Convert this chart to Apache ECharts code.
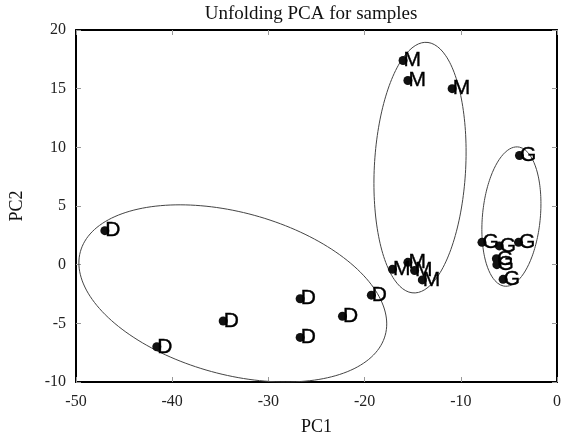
<!DOCTYPE html>
<html><head><meta charset="utf-8">
<script src="https://cdn.jsdelivr.net/npm/echarts@6/dist/echarts.min.js"></script>
<style>html,body{margin:0;padding:0;background:#fff}#c{width:567px;height:437px}</style>
</head><body><div id="c"></div>
<script>
// Sample scores (PC1, PC2)
const groupD_pc1 = [-47.0, -41.6, -34.7, -26.7, -26.7, -22.3, -19.3];
const groupD_pc2 = [2.9, -7.0, -4.8, -2.9, -6.2, -4.4, -2.6];
const groupM_pc1 = [-16.0, -15.5, -10.9, -17.1, -15.5, -14.8, -14.0];
const groupM_pc2 = [17.4, 15.7, 15.0, -0.4, 0.2, -0.5, -1.3];
const groupG_pc1 = [-3.9, -7.8, -6.0, -4.0, -6.3, -6.25, -5.6];
const groupG_pc2 = [9.3, 1.9, 1.6, 1.9, 0.5, 0.0, -1.25];
const labels = ['D', 'M', 'G'];
// Ellipses: [centerX, centerY, halfWidthX, halfHeightY, yOffsetAtXmax]
const ellipseD = [-33.7, -2.45, 16.0, 7.55, -2.6];
const ellipseM = [-14.24, 8.27, 4.79, 10.68, 1.34];
const ellipseG = [-4.74, 4.1, 3.07, 5.94, 1.1];
const xTicks = [-50, -40, -30, -20, -10, 0];
const yTicks = [-10, -5, 0, 5, 10, 15, 20];

function pts(xs, ys) { return xs.map((x, i) => [x, ys[i]]); }
function ellipse(p) {
  const [cx, cy, hx, hy, k] = p;
  const d = Math.sqrt(hy * hy - k * k);
  const out = [];
  for (let i = 0; i <= 180; i++) {
    const t = i / 180 * 2 * Math.PI;
    out.push([cx + hx * Math.cos(t), cy + k * Math.cos(t) + d * Math.sin(t)]);
  }
  return out;
}
const serif = 'Liberation Serif, Times New Roman, serif';
function scatter(name, data) {
  return {
    type: 'scatter', name, data, symbolSize: 9, z: 5,
    itemStyle: { color: '#111', opacity: 1 },
    label: { show: true, formatter: name, position: 'right', distance: -4,
      fontFamily: 'Liberation Sans, Arial, sans-serif', fontSize: 21, color: '#000', opacity: 1,
      textBorderColor: '#000', textBorderWidth: 0.4 }
  };
}
function ell(data) {
  return { type: 'line', data, showSymbol: false, symbol: 'none', smooth: false,
    lineStyle: { color: '#444', width: 1 }, z: 2, silent: true };
}
const axisLine = { show: true, onZero: false, lineStyle: { color: '#000', width: 2 } };
const tick = { show: true, inside: true, length: 5, lineStyle: { color: '#999' } };
const chart = echarts.init(document.getElementById('c'));
chart.setOption({
  animation: false,
  title: { text: 'Unfolding PCA for samples', left: 306, textAlign: 'center', top: 0,
    textStyle: { fontFamily: serif, fontSize: 19, fontWeight: 'normal', color: '#111' } },
  grid: { left: 76, right: 10, top: 30, bottom: 55, containLabel: false, outerBoundsMode: 'none' },
  xAxis: [
    { type: 'value', min: xTicks[0], max: xTicks[xTicks.length - 1], interval: 10,
      name: 'PC1', nameLocation: 'middle', nameGap: 36,
      nameTextStyle: { fontFamily: serif, fontSize: 18, color: '#111' },
      axisLine, axisTick: tick, splitLine: { show: false },
      axisLabel: { fontFamily: serif, fontSize: 16, color: '#222', margin: 12 } },
    { type: 'value', position: 'top', min: xTicks[0], max: xTicks[xTicks.length - 1], interval: 10,
      axisLine, axisTick: tick, splitLine: { show: false }, axisLabel: { show: false } }
  ],
  yAxis: [
    { type: 'value', min: yTicks[0], max: yTicks[yTicks.length - 1], interval: 5,
      name: 'PC2', nameLocation: 'middle', nameGap: 50,
      nameTextStyle: { fontFamily: serif, fontSize: 18, color: '#111' },
      axisLine, axisTick: tick, splitLine: { show: false },
      axisLabel: { fontFamily: serif, fontSize: 16, color: '#222', margin: 10 } },
    { type: 'value', position: 'right', min: yTicks[0], max: yTicks[yTicks.length - 1], interval: 5,
      axisLine, axisTick: tick, splitLine: { show: false }, axisLabel: { show: false } }
  ],
  series: [
    ell(ellipse(ellipseD)), ell(ellipse(ellipseM)), ell(ellipse(ellipseG)),
    scatter(labels[0], pts(groupD_pc1, groupD_pc2)),
    scatter(labels[1], pts(groupM_pc1, groupM_pc2)),
    scatter(labels[2], pts(groupG_pc1, groupG_pc2))
  ]
});
</script></body></html>
